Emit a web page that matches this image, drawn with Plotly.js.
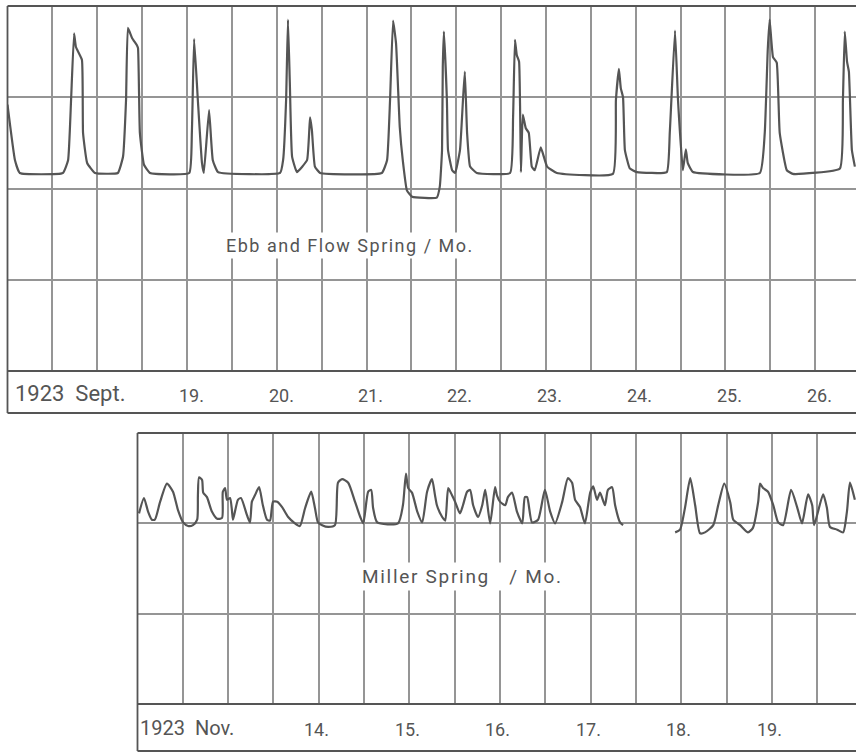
<!DOCTYPE html>
<html><head><meta charset="utf-8">
<script src="https://cdn.plot.ly/plotly-3.0.1.min.js"></script>
<style>html,body{margin:0;padding:0;background:#fff}#chart{width:856px;height:754px}</style>
</head><body><div id="chart"></div>
<script>
// Ebb and Flow Spring, Sept 1923 — hours since 17 Sept 00:00, relative level
const ebbHours = [0, 2.0, 3.3, 14.8, 16.2, 17.0, 17.8, 18.3, 19.9, 20.2,
  21.3, 23.4, 29.5, 30.9, 31.7, 32.2, 33.3, 34.6, 34.9, 35.4,
  36.5, 38.1, 48.6, 49.3, 49.9, 50.9, 52.0, 52.5, 53.9, 54.9,
  56.3, 72.9, 73.7, 74.5, 75.0, 75.5, 76.1, 77.4, 80.1, 80.9,
  81.4, 82.2, 83.6, 100.1, 101.5, 102.3, 103.1, 103.9, 104.9, 105.7,
  106.8, 108.2, 114.8, 115.6, 116.2, 116.4, 116.7, 117.5, 117.8, 118.9,
  119.7, 121.0, 121.8, 122.3, 122.9, 123.7, 125.5, 134.4, 135.2, 135.7,
  136.2, 136.8, 137.3, 137.8, 138.6, 139.4, 140.2, 141.0, 142.6, 144.3,
  146.9, 161.9, 162.7, 163.5, 164.0, 164.6, 165.1, 166.4, 168.3, 176.3,
  177.1, 178.5, 179.3, 180.6, 181.4, 181.9, 183.3, 201.2, 202.5, 203.3,
  203.8, 204.7, 205.7, 206.5, 208.4, 210.0, 222.6, 223.4, 223.9, 224.5,
  225.0, 225.8, 226.6];
const ebbLevel = [2.92, 2.31, 2.17, 2.17, 2.31, 2.97, 3.70, 3.55, 3.41, 2.61,
  2.28, 2.17, 2.17, 2.35, 2.97, 3.76, 3.65, 3.57, 3.54, 2.61,
  2.26, 2.17, 2.17, 2.61, 3.64, 2.97, 2.28, 2.17, 2.86, 2.31,
  2.18, 2.17, 2.31, 2.97, 3.85, 3.16, 2.35, 2.18, 2.31, 2.78,
  2.64, 2.24, 2.17, 2.17, 2.31, 2.97, 3.84, 3.59, 2.67, 2.31,
  1.98, 1.91, 1.90, 2.02, 2.42, 3.33, 3.72, 2.97, 2.42, 2.20,
  2.17, 2.42, 2.97, 3.28, 2.61, 2.24, 2.17, 2.17, 2.78, 3.63,
  3.46, 3.39, 2.18, 2.81, 2.66, 2.61, 2.24, 2.20, 2.45, 2.24,
  2.17, 2.16, 2.97, 3.31, 3.10, 3.00, 2.42, 2.22, 2.18, 2.18,
  2.61, 3.73, 2.97, 2.20, 2.43, 2.28, 2.18, 2.17, 2.61, 3.52,
  3.85, 3.44, 3.38, 2.61, 2.20, 2.16, 2.22, 2.97, 3.72, 3.39,
  3.28, 2.42, 2.24];

// Miller Spring, Nov 1923 — hours since 12 Nov 00:00, two recorded segments
const millerHoursA = [0.4, 1.7, 2.8, 3.8, 4.6, 6.0, 7.8, 9.4, 10.7, 12.1,
  13.4, 14.7, 15.8, 16.0, 16.3, 17.1, 17.4, 18.4, 19.7, 21.1,
  22.4, 22.6, 23.2, 23.7, 24.5, 25.0, 25.3, 26.6, 27.4, 29.0,
  29.8, 30.3, 31.1, 32.2, 33.2, 34.3, 35.1, 35.9, 37.0, 38.3,
  39.9, 41.7, 43.0, 44.4, 46.0, 47.0, 47.8, 48.9, 50.5, 52.3,
  53.1, 54.2, 55.8, 57.6, 59.0, 59.8, 61.1, 61.9, 62.4, 63.5,
  69.0, 70.3, 71.1, 71.7, 72.7, 74.1, 75.4, 76.7, 78.0, 78.8,
  79.3, 80.7, 81.5, 82.3, 83.3, 84.1, 85.4, 86.2, 87.3, 88.1,
  88.9, 90.2, 91.3, 92.1, 93.4, 94.7, 95.2, 96.0, 97.4, 98.1,
  99.2, 100.5, 101.9, 102.6, 103.2, 104.5, 106.1, 107.9, 109.3, 110.6,
  112.5, 114.0, 115.1, 115.9, 117.2, 118.5, 119.9, 120.7, 121.7, 122.5,
  123.8, 124.6, 125.7, 126.5, 127.8, 128.6];
const millerLevelA = [2.11, 2.28, 2.13, 2.04, 2.04, 2.24, 2.44, 2.35, 2.15, 2.01,
  1.97, 1.98, 2.04, 2.31, 2.51, 2.48, 2.34, 2.29, 2.13, 2.05,
  2.06, 2.35, 2.39, 2.26, 2.28, 2.15, 2.04, 2.26, 2.28, 2.09,
  2.01, 2.24, 2.31, 2.40, 2.20, 2.04, 2.03, 2.24, 2.24, 2.18,
  2.07, 2.00, 1.97, 2.17, 2.35, 2.17, 2.01, 1.98, 1.96, 1.98,
  2.45, 2.49, 2.45, 2.24, 2.07, 2.00, 2.35, 2.37, 2.17, 2.01,
  2.00, 2.20, 2.55, 2.39, 2.34, 2.13, 2.01, 2.35, 2.49, 2.31,
  2.20, 2.07, 2.03, 2.39, 2.31, 2.24, 2.11, 2.20, 2.35, 2.37,
  2.20, 2.07, 2.20, 2.37, 2.00, 2.40, 2.31, 2.24, 2.20, 2.29,
  2.34, 2.13, 2.00, 2.29, 2.29, 2.01, 2.04, 2.37, 2.13, 2.00,
  2.24, 2.50, 2.45, 2.26, 2.18, 2.00, 2.34, 2.41, 2.26, 2.34,
  2.20, 2.37, 2.40, 2.20, 2.01, 1.98];
const millerHoursB = [142.4, 143.7, 145.0, 146.4, 147.7, 149.0, 150.3, 152.5, 153.8, 155.4,
  157.0, 157.8, 159.6, 161.7, 163.0, 164.4, 164.9, 165.7, 167.0, 168.4,
  169.7, 171.0, 173.1, 174.7, 176.0, 177.6, 178.7, 179.2, 181.6, 182.6,
  183.4, 185.3, 186.9, 187.9, 188.7, 190.0];
const millerLevelB = [1.90, 1.93, 2.17, 2.50, 2.20, 1.89, 1.90, 1.98, 2.20, 2.44,
  2.23, 2.04, 1.98, 1.90, 1.95, 2.24, 2.44, 2.39, 2.35, 2.20,
  2.01, 1.98, 2.37, 2.18, 2.00, 2.32, 2.20, 1.98, 2.32, 2.17,
  1.96, 1.93, 1.90, 2.13, 2.45, 2.26];

// Day labels (text and hour position)
const septLabels = ['19.', '20.', '21.', '22.', '23.', '24.', '25.', '26.'];
const septLabelHours = [49.2, 73.2, 97, 121, 145, 169, 193, 217.2];
const novLabels = ['14.', '15.', '16.', '17.', '18.', '19.'];
const novLabelHours = [47.5, 71.6, 95.3, 119.5, 143.3, 167.5];
const septTitle = '1923\u00a0\u00a0Sept.';
const novTitle = '1923\u00a0\u00a0Nov.';
const ebbName = 'Ebb and Flow Spring / Mo.';
const millerName = 'Miller Spring\u00a0\u00a0\u00a0/ Mo.';

const W = 856, H = 754;
const fx = p => p / W;
const fy = p => 1 - p / H;
const INK = '#555', GRID = '#959595', FRAME = '#555';
const FONT = 'Roboto, "DejaVu Sans", sans-serif';
const spaced = (t, s) => '<span style="letter-spacing:' + s + 'px">' + t + '</span>';

const traces = [
  {x: ebbHours, y: ebbLevel, xaxis: 'x', yaxis: 'y', mode: 'lines',
   line: {color: INK, width: 2.2, shape: 'spline', smoothing: 0.35}, hoverinfo: 'skip'},
  {x: millerHoursA, y: millerLevelA, xaxis: 'x2', yaxis: 'y2', mode: 'lines',
   line: {color: INK, width: 2.2, shape: 'spline', smoothing: 0.6}, hoverinfo: 'skip'},
  {x: millerHoursB, y: millerLevelB, xaxis: 'x2', yaxis: 'y2', mode: 'lines',
   line: {color: INK, width: 2.2, shape: 'spline', smoothing: 0.6}, hoverinfo: 'skip'}
];

const axBase = {showgrid: true, gridcolor: GRID, gridwidth: 2, showticklabels: false, ticks: '',
  zeroline: false, showline: false, fixedrange: true};

function hline(y, x0, x1) { return {type: 'line', xref: 'paper', yref: 'paper', x0: fx(x0), x1: fx(x1), y0: fy(y), y1: fy(y), line: {color: FRAME, width: 1.8}}; }
function vline(x, y0, y1) { return {type: 'line', xref: 'paper', yref: 'paper', x0: fx(x), x1: fx(x), y0: fy(y0), y1: fy(y1), line: {color: FRAME, width: 1.8}}; }

const shapes = [
  hline(6, 7.5, 856), hline(371, 7.5, 856), hline(413, 7.5, 856), vline(7.5, 6, 413),
  hline(433, 137.5, 856), hline(704, 137.5, 856), hline(751, 137.5, 856), vline(137.5, 433, 751)
];

const annotations = [];
septLabels.forEach((t, i) => annotations.push({text: t, x: septLabelHours[i], xref: 'x', y: fy(395), yref: 'paper',
  showarrow: false, xanchor: 'center', yanchor: 'middle', font: {family: FONT, size: 18, color: '#555'}}));
novLabels.forEach((t, i) => annotations.push({text: t, x: novLabelHours[i], xref: 'x2', y: fy(729), yref: 'paper',
  showarrow: false, xanchor: 'center', yanchor: 'middle', font: {family: FONT, size: 18, color: '#555'}}));
annotations.push({text: septTitle, x: 1.6, xref: 'x', y: fy(393), yref: 'paper', showarrow: false, xanchor: 'left',
  yanchor: 'middle', font: {family: FONT, size: 22, color: '#555'}});
annotations.push({text: novTitle, x: 0.2, xref: 'x2', y: fy(728), yref: 'paper', showarrow: false, xanchor: 'left',
  yanchor: 'middle', font: {family: FONT, size: 20, color: '#555'}});
annotations.push({text: spaced(ebbName, 1.5), x: 91.6, xref: 'x', y: 1.37, yref: 'y', showarrow: false, xanchor: 'center',
  yanchor: 'middle', bgcolor: '#fff', borderpad: 2, font: {family: FONT, size: 18, color: '#555'}});
annotations.push({text: spaced(millerName, 1.7), x: 86.2, xref: 'x2', y: 1.41, yref: 'y2', showarrow: false, xanchor: 'center',
  yanchor: 'middle', bgcolor: '#fff', borderpad: 2, font: {family: FONT, size: 19, color: '#555'}});

const layout = {
  width: W, height: H, margin: {l: 0, r: 0, t: 0, b: 0}, showlegend: false,
  paper_bgcolor: '#fff', plot_bgcolor: 'rgba(0,0,0,0)',
  xaxis: Object.assign({}, axBase, {domain: [fx(7.5), 1], range: [0, 226.9], tick0: 0, dtick: 12, anchor: 'y'}),
  yaxis: Object.assign({}, axBase, {domain: [fy(371), fy(6)], range: [0, 4], tick0: 0, dtick: 1, anchor: 'x'}),
  xaxis2: Object.assign({}, axBase, {domain: [fx(137.5), 1], range: [0, 190.3], tick0: 0, dtick: 12, anchor: 'y2'}),
  yaxis2: Object.assign({}, axBase, {domain: [fy(704), fy(433)], range: [0, 3], tick0: 0, dtick: 1, anchor: 'x2'}),
  shapes: shapes, annotations: annotations
};

Plotly.newPlot('chart', traces, layout, {staticPlot: true, displayModeBar: false});
</script></body></html>
